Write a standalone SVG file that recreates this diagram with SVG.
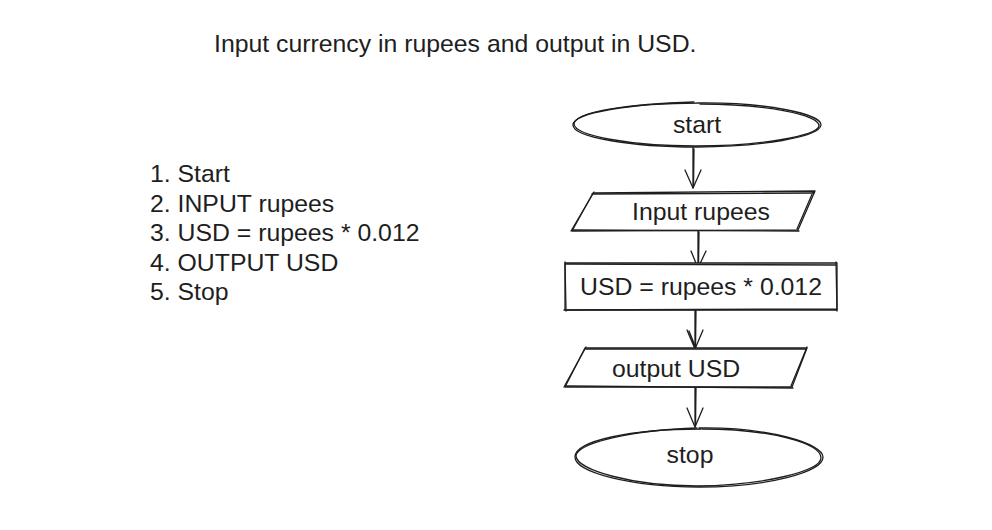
<svg xmlns="http://www.w3.org/2000/svg" width="992" height="530" viewBox="0 0 992 530">
<style>
text{font-family:"Liberation Sans",Arial,Helvetica,sans-serif;font-size:24.8px;fill:#1e1e1e}
.s{fill:none;stroke:#1e1e1e;stroke-width:1.3;stroke-linecap:round;stroke-linejoin:round}
.f{fill:#fff}
.c{text-anchor:middle}
</style>
<rect width="992" height="530" fill="#fff"/>
<text id="title" x="214" y="52">Input currency in rupees and output in USD.</text>
<g id="steps">
<text x="150" y="182">1. Start</text>
<text x="150" y="211.5">2. INPUT rupees</text>
<text x="150" y="241">3. USD = rupees * 0.012</text>
<text x="150" y="270.5">4. OUTPUT USD</text>
<text x="150" y="300">5. Stop</text>
</g>
<g id="connectors">
<path class="s" d="M693 147 L693 188 M694 149 L693.5 186"/>
<path class="s" d="M685 170 L693 188 L701 170"/>
<path class="s" d="M698 231 L698 268 M699 232 L698.5 266"/>
<path class="s" d="M691 251 L698 268 L706 251"/>
<path class="s" d="M695 310 L695 349 M696 311 L695.5 347"/>
<path class="s" d="M687 330 L695 349 L703 330 M689 331 L695.5 347"/>
<path class="s" d="M695 387 L695 427 M696 388 L695.5 425"/>
<path class="s" d="M687 408 L695 427 L703 408"/>
</g>
<g id="start">
<ellipse class="f" cx="697" cy="125" rx="124" ry="22"/>
<path class="s" d="M697 103 C765 102 822 114 821 125 C820 137 760 147 697 147 C630 147 573 137 573 125 C573 113 630 103 699 103"/>
<path class="s" d="M700 104 C766 104 820 115 819 126 C817 136 760 146 695 146 C632 146 575 136 574 124 C575 111 632 104 694 102"/>
<text class="c" x="697" y="133">start</text>
</g>
<g id="input">
<path class="s f" d="M593 193 L815 191 L798 230 L572 231 Z"/>
<path class="s" d="M592 194 L814 193 M813 192 L797 229 M799 231 L573 230 M571 231 L594 192"/>
<text class="c" x="701" y="220">Input rupees</text>
</g>
<g id="calc">
<rect class="s f" x="565" y="263" width="272" height="47"/>
<path class="s" d="M566 264 L836 265 M836 262 L837 311 M837 309 L564 310 M566 311 L565 262"/>
<text class="c" x="701" y="295">USD = rupees * 0.012</text>
</g>
<g id="output">
<path class="s f" d="M585 348 L807 348 L792 387 L565 387 Z"/>
<path class="s" d="M586 349 L806 349 M807 347 L791 386 M793 388 L566 386 M564 387 L586 347"/>
<text x="612" y="377">output USD</text>
</g>
<g id="stop">
<ellipse class="f" cx="699" cy="457" rx="124" ry="29"/>
<path class="s" d="M699 428 C770 427 823 444 823 457 C823 472 768 487 699 487 C630 487 575 472 575 457 C575 441 630 429 701 429"/>
<path class="s" d="M702 429 C770 429 821 443 821 458 C820 471 766 485 697 486 C632 486 577 470 576 456 C577 443 632 430 697 428"/>
<text class="c" x="690" y="463">stop</text>
</g>
</svg>
